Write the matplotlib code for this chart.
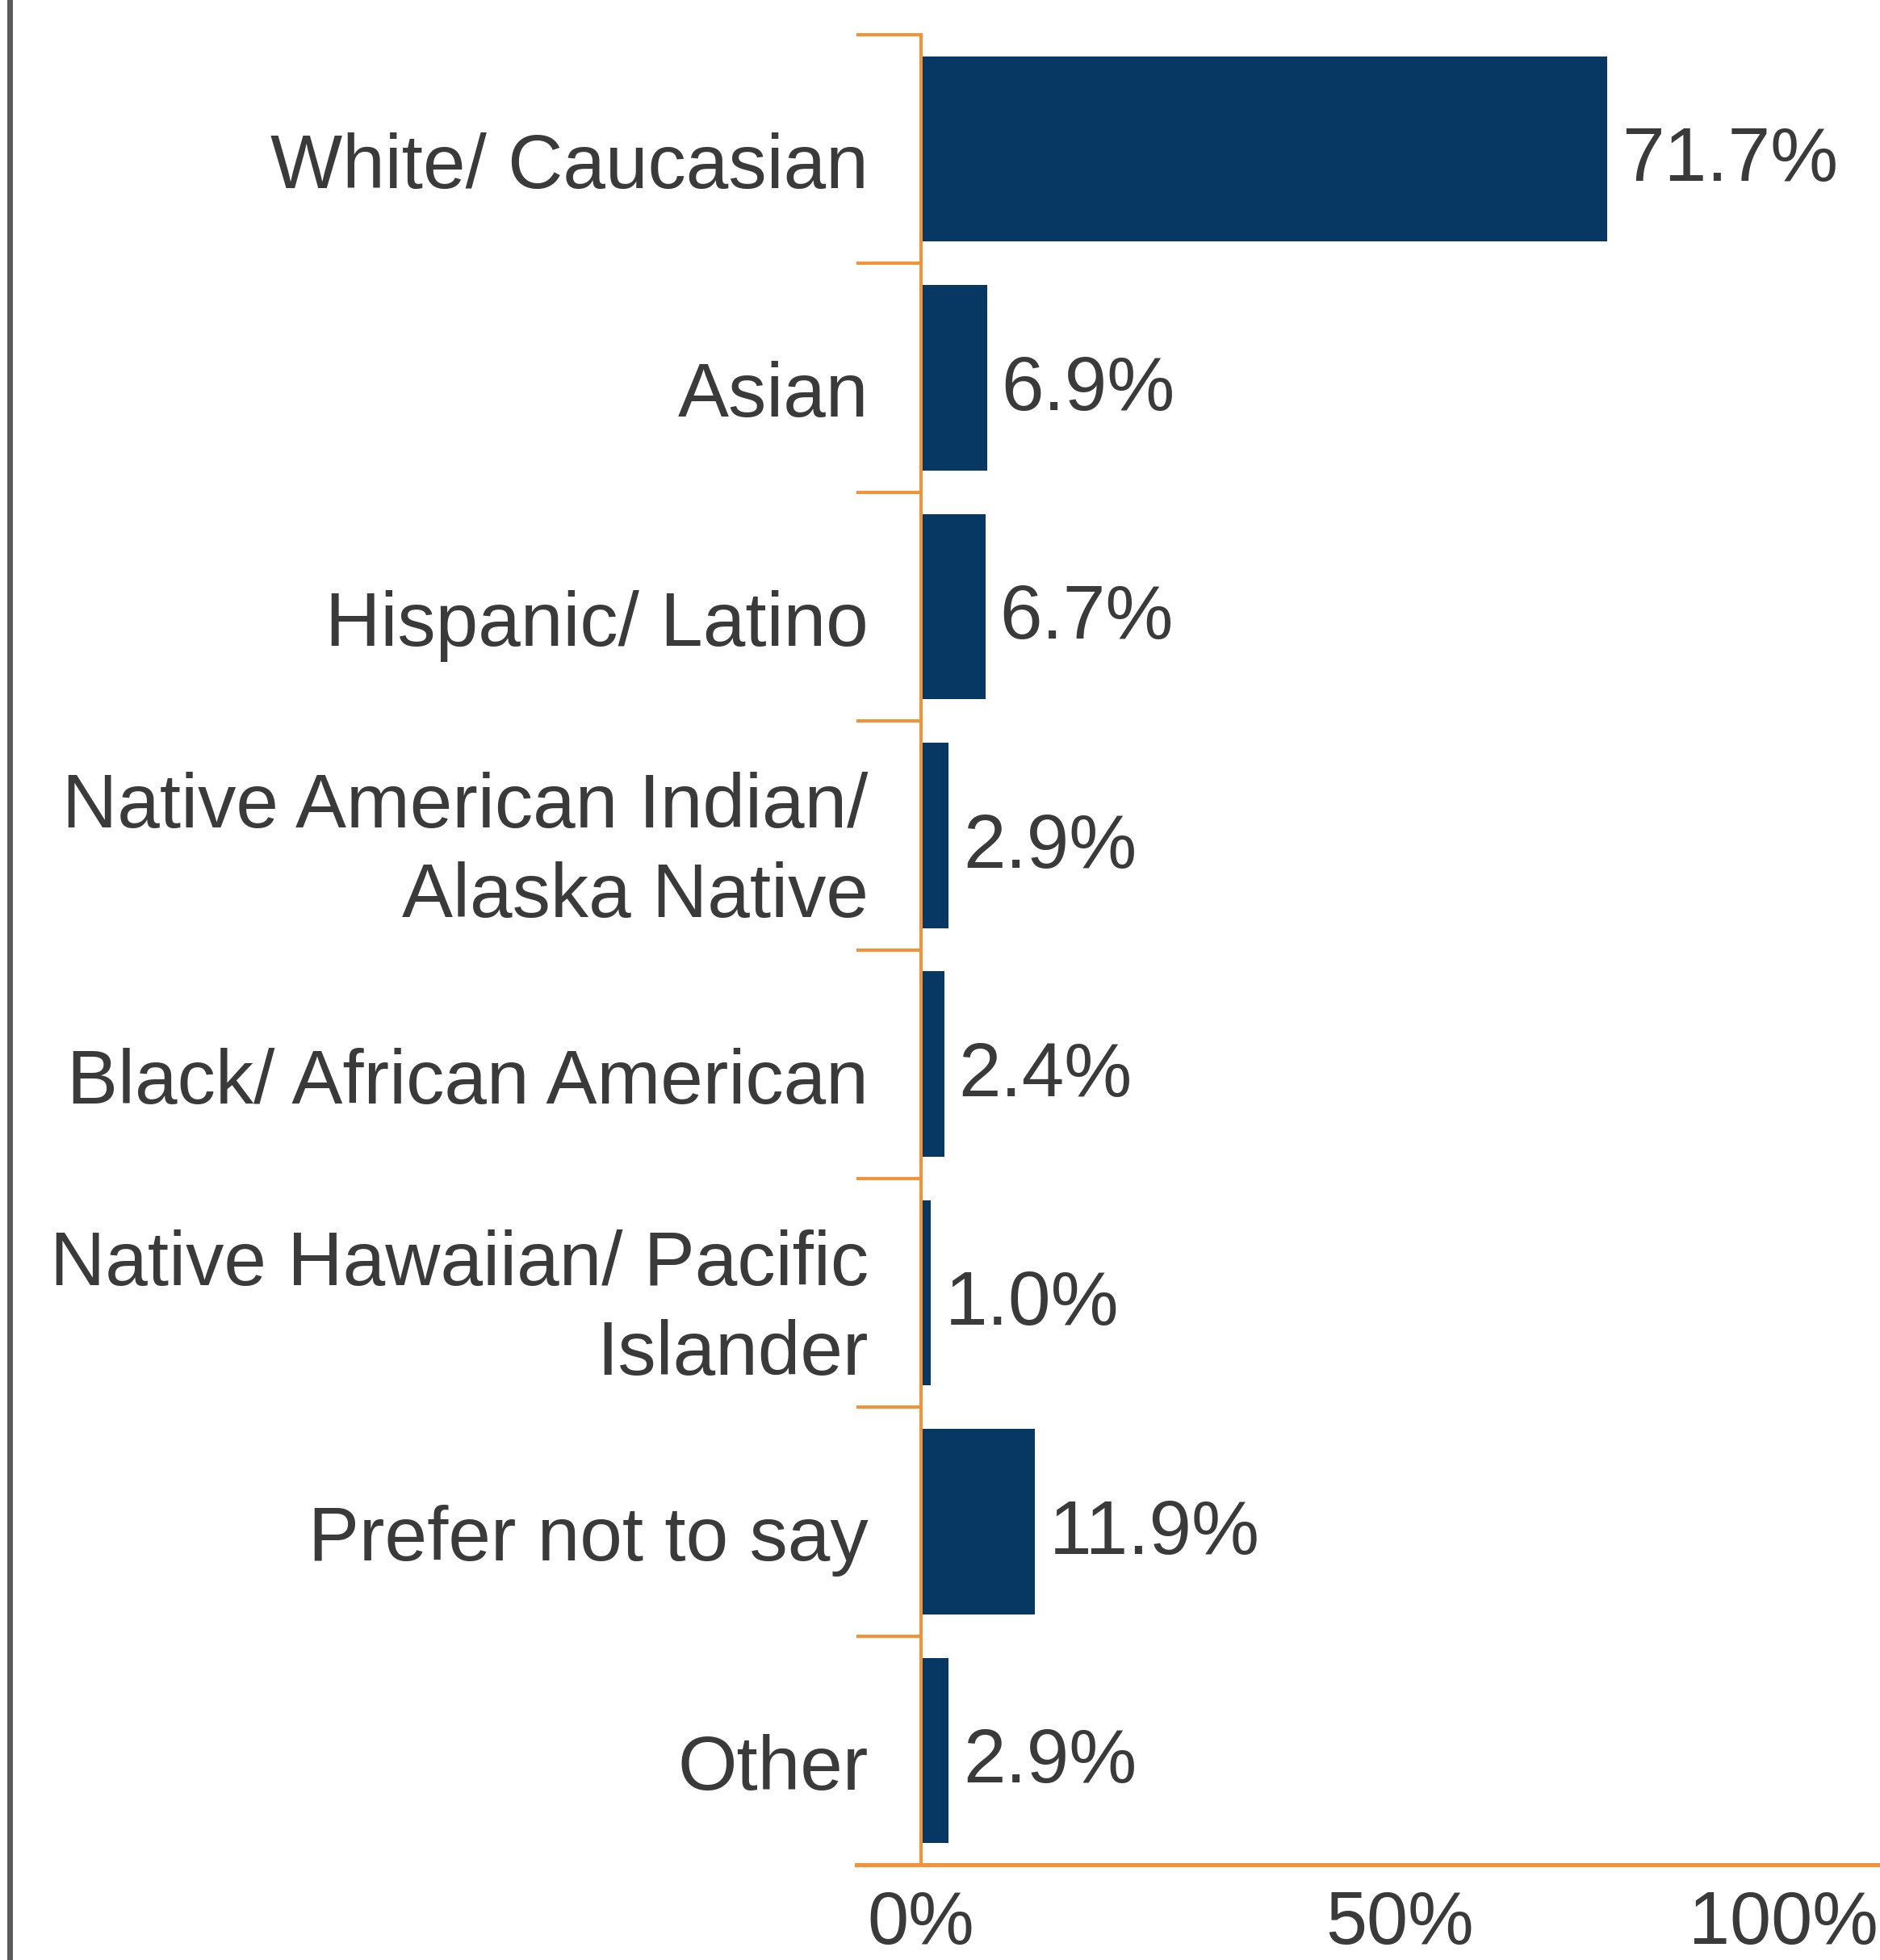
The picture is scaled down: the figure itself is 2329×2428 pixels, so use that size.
import numpy as np
import matplotlib
matplotlib.use("Agg")
import matplotlib.pyplot as plt
from matplotlib.lines import Line2D

categories = [
    "White/ Caucasian",
    "Asian",
    "Hispanic/ Latino",
    "Native American Indian/\nAlaska Native",
    "Black/ African American",
    "Native Hawaiian/ Pacific\nIslander",
    "Prefer not to say",
    "Other",
]
shares = [71.7, 6.9, 6.7, 2.9, 2.4, 1.0, 11.9, 2.9]
x_ticks = [0, 50, 100]
x_ticklabels = ["0%", "50%", "100%"]

BAR = "#073763"
AXIS = "#F39237"
TEXT = "#3a3a3a"
FONT = 68

plt.rcParams["font.family"] = ["Liberation Sans", "DejaVu Sans"]

fig = plt.figure(figsize=(23.29, 24.28), dpi=100, facecolor="white")
W, H = 2329, 2428
ax = fig.add_axes([1061 / W, 1 - 2310 / H, (2327 - 1061) / W, (2310 - 43) / H])

y = np.arange(len(categories))
ax.barh(y, shares, height=0.81, color=BAR, zorder=1)

for yi, v in zip(y, shares):
    ax.annotate(f"{v:.1f}%", xy=(v, yi), xytext=(12.5, -11), textcoords="offset points",
                ha="left", va="center", fontsize=FONT, color=TEXT)

# category names, right-aligned against the axis
for yi, name in zip(y, categories):
    dy = 0 if "\n" in name else -10
    ax.annotate(name, xy=(0, yi), xytext=(-47, dy), textcoords="offset points",
                ha="right", va="center_baseline", multialignment="right",
                fontsize=FONT, color=TEXT, linespacing=1.32, annotation_clip=False)

ax.set_xlim(-6.75, 100)
ax.set_ylim(len(categories) - 0.5, -0.5)

# orange ticks mark the category boundaries
ax.set_yticks(np.arange(len(categories) + 1) - 0.5)
ax.set_yticklabels([])
ax.tick_params(axis="y", length=57.6, width=2.9, color=AXIS, direction="out")

ax.set_xticks(x_ticks)
ax.set_xticklabels(x_ticklabels)
ax.tick_params(axis="x", length=0, pad=22, labelsize=66, labelcolor=TEXT)
ax.get_xticklabels()[-1].set_ha("right")

for side in ["top", "right"]:
    ax.spines[side].set_visible(False)
ax.spines["left"].set_position(("data", 0))
ax.spines["left"].set_color(AXIS)
ax.spines["left"].set_linewidth(2.9)
ax.spines["bottom"].set_color(AXIS)
ax.spines["bottom"].set_linewidth(3.6)

# grey frame edge on the left
fig.add_artist(Line2D([11.5 / W, 11.5 / W], [0, 1], color="#5a5a5a", lw=5,
                      transform=fig.transFigure))

fig.savefig("out.png", dpi=100, facecolor="white")
